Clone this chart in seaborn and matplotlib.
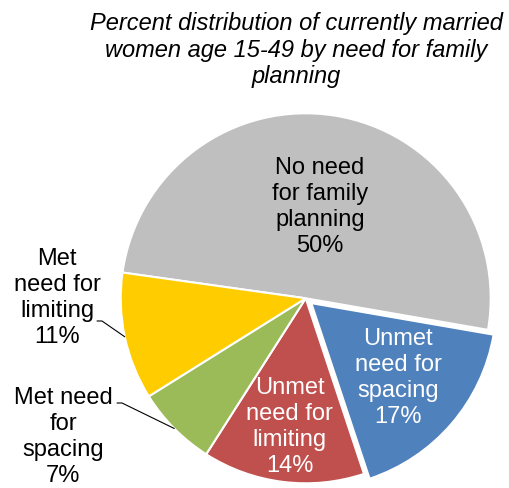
import numpy as np
import matplotlib
matplotlib.use("Agg")
import matplotlib.pyplot as plt
import seaborn as sns

sns.set_theme(style="white")
plt.rcParams["font.family"] = ["Liberation Sans", "DejaVu Sans"]

# dane
labels = [
    "No need\nfor family\nplanning\n50%",
    "Unmet\nneed for\nspacing\n17%",
    "Unmet\nneed for\nlimiting\n14%",
    "Met need\nfor\nspacing\n7%",
    "Met\nneed for\nlimiting\n11%",
]
values = [50, 17, 14, 7, 11]
colors = ["#BFBFBF", "#4F81BD", "#C0504D", "#9BBB59", "#FFCC00"]
explode = [0, 0.04, 0, 0, 0]

W, H = 509, 488
CX, CY, R = 305.7, 298.3, 185.0  # środek i promień koła w pikselach


def px(x, y):
    """piksele (od lewego górnego rogu) -> współrzędne danych"""
    return (x - CX) / R, (CY - y) / R


fig = plt.figure(figsize=(W / 100, H / 100), dpi=100)
ax = fig.add_axes([0, 0, 1, 1])

wedges, _ = ax.pie(
    values,
    colors=colors,
    explode=explode,
    startangle=172,
    counterclock=False,
    radius=1,
    wedgeprops=dict(edgecolor="white", linewidth=1.5),
)

ax.set_aspect("auto")
ax.set_xlim(-CX / R, (W - CX) / R)
ax.set_ylim(-(H - CY) / R, CY / R)
ax.axis("off")


def mid(w, r):
    a = np.deg2rad((w.theta1 + w.theta2) / 2)
    cx, cy = w.center
    return cx + r * np.cos(a), cy + r * np.sin(a)


fs = 17
ls = 1.24
# etykiety wewnątrz wycinków
inside = {0: (0.50, "black"), 1: (0.62, "white"), 2: (0.70, "white")}
for i, (dist, col) in inside.items():
    x, y = mid(wedges[i], dist)
    ax.text(x, y, labels[i], ha="center", va="center", fontsize=fs,
            color=col, linespacing=ls)

# etykiety zewnętrzne z liniami
outside = {4: ((57, 298), (97, 321), (102, 321)),
           3: ((63, 437), (117, 403), (122, 403))}
for i, (pos, p0, p1) in outside.items():
    tx, ty = px(*pos)
    ax.text(tx, ty, labels[i], ha="center", va="center", fontsize=fs,
            color="black", linespacing=ls)
    ex, ey = mid(wedges[i], 1.0)
    x0, y0 = px(*p0)
    x1, y1 = px(*p1)
    ax.plot([x0, x1, ex], [y0, y1, ey], color="black", lw=0.8)

fig.text(296 / W, 1 - 50 / H,
         "Percent distribution of currently married\n"
         "women age 15-49 by need for family\nplanning",
         ha="center", va="center", fontsize=17, style="italic",
         color="black", linespacing=1.2)

fig.savefig("out.png", dpi=100)
